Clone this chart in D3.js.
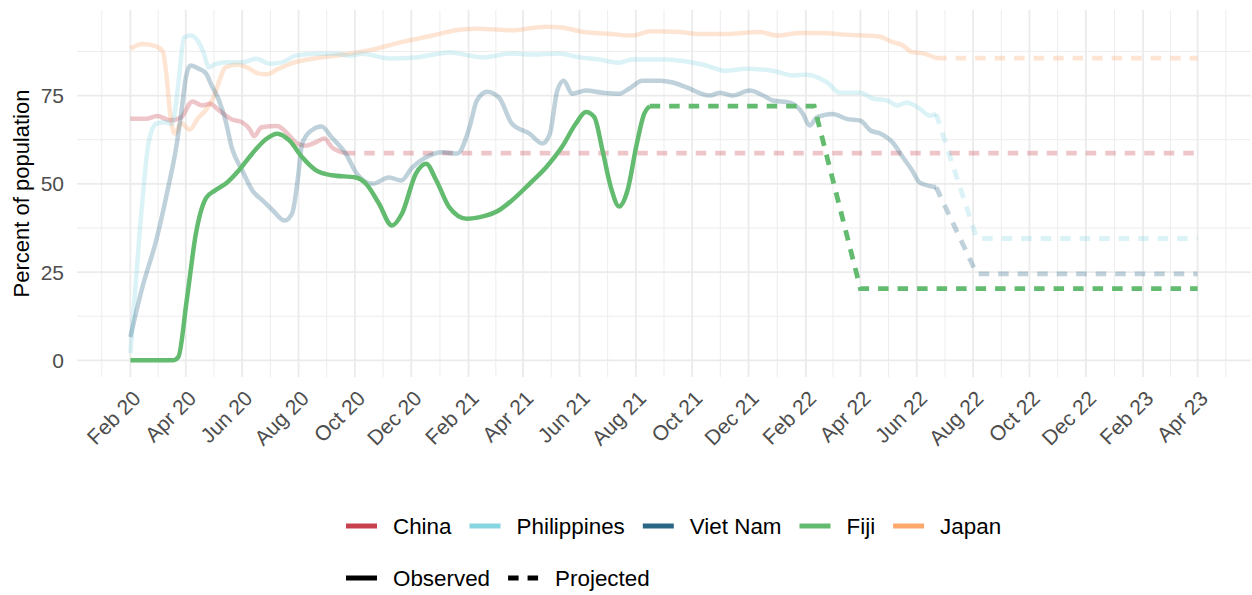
<!DOCTYPE html>
<html>
<head>
<meta charset="utf-8">
<script src="https://cdn.jsdelivr.net/npm/d3@7"></script>
<style>
  body { margin: 0; background: #fff; }
  text { font-family: "Liberation Sans", Arial, sans-serif; }
</style>
</head>
<body>
<div id="vis"></div>
<script>
// Data
const countries = ["China", "Philippines", "Viet Nam", "Fiji", "Japan"];
const countryColors = ["#C8414F", "#87D5E0", "#2A6785", "#63BB6F", "#FDA96E"];
const yTicks = [0, 25, 50, 75];

const chinaObserved = [
  ["2020-02-01", 68.4], ["2020-02-18", 68.4], ["2020-03-01", 69.2], ["2020-03-15", 68.0],
  ["2020-03-27", 68.8], ["2020-04-08", 73.3], ["2020-04-19", 72.2], ["2020-04-27", 72.7],
  ["2020-05-07", 70.8], ["2020-05-21", 68.2], ["2020-06-01", 67.4], ["2020-06-09", 65.5],
  ["2020-06-14", 63.5], ["2020-06-22", 66.0], ["2020-07-09", 66.4], ["2020-07-19", 64.5],
  ["2020-07-30", 61.5], ["2020-08-09", 60.8], ["2020-08-20", 61.8], ["2020-08-29", 62.8],
  ["2020-09-06", 60.4], ["2020-09-20", 58.7]
];
const chinaProjected = [["2020-09-20", 58.7], ["2023-04-01", 58.7]];

const philippinesObserved = [
  ["2020-02-01", 2.0], ["2020-02-11", 36.0], ["2020-02-21", 62.0], ["2020-02-29", 67.0],
  ["2020-03-11", 67.4], ["2020-03-17", 67.0], ["2020-03-24", 78.4], ["2020-03-30", 91.4],
  ["2020-04-06", 92.0], ["2020-04-15", 90.1], ["2020-04-20", 87.3], ["2020-04-26", 83.0],
  ["2020-05-04", 84.0], ["2020-05-18", 84.4], ["2020-06-01", 84.4], ["2020-06-16", 85.4],
  ["2020-07-01", 84.0], ["2020-07-14", 84.4], ["2020-07-29", 86.3], ["2020-08-20", 86.8],
  ["2020-09-11", 86.8], ["2020-09-25", 86.3], ["2020-10-09", 86.8], ["2020-11-07", 85.5],
  ["2020-12-06", 85.8], ["2021-01-11", 87.2], ["2021-02-16", 85.8], ["2021-03-20", 86.9],
  ["2021-04-11", 86.6], ["2021-05-10", 86.9], ["2021-06-01", 85.8], ["2021-06-22", 85.2],
  ["2021-07-14", 84.3], ["2021-07-28", 85.2], ["2021-09-03", 85.2], ["2021-09-17", 84.9],
  ["2021-10-16", 83.5], ["2021-11-06", 82.0], ["2021-11-28", 82.6], ["2021-12-27", 82.0],
  ["2022-01-18", 80.7], ["2022-02-02", 80.9], ["2022-02-24", 78.7], ["2022-03-10", 75.8],
  ["2022-04-01", 75.8], ["2022-04-15", 74.1], ["2022-04-30", 73.6], ["2022-05-11", 72.2],
  ["2022-05-21", 73.0], ["2022-06-04", 71.3], ["2022-06-15", 69.3], ["2022-06-22", 69.8]
];
const philippinesProjected = [["2022-06-22", 69.8], ["2022-08-05", 34.5], ["2023-04-01", 34.5]];

const vietnamObserved = [
  ["2020-02-01", 6.6], ["2020-02-14", 20.7], ["2020-02-29", 34.0], ["2020-03-13", 49.0],
  ["2020-03-21", 59.4], ["2020-03-27", 69.9], ["2020-04-01", 80.0], ["2020-04-06", 83.5],
  ["2020-04-15", 82.6], ["2020-04-23", 81.2], ["2020-04-29", 77.8], ["2020-05-07", 73.6],
  ["2020-05-14", 67.9], ["2020-05-21", 60.0], ["2020-06-01", 53.8], ["2020-06-12", 48.1],
  ["2020-06-23", 45.3], ["2020-07-04", 42.5], ["2020-07-17", 39.6], ["2020-07-25", 41.6],
  ["2020-07-31", 50.9], ["2020-08-05", 61.4], ["2020-08-15", 65.1], ["2020-08-26", 66.2],
  ["2020-09-06", 63.1], ["2020-09-21", 58.6], ["2020-10-03", 52.9], ["2020-10-20", 50.0],
  ["2020-11-07", 51.8], ["2020-11-20", 50.9], ["2020-12-02", 54.6], ["2020-12-17", 57.5],
  ["2021-01-04", 58.9], ["2021-01-20", 58.6], ["2021-02-02", 66.0], ["2021-02-10", 73.6],
  ["2021-02-21", 76.1], ["2021-03-06", 74.4], ["2021-03-20", 67.0], ["2021-04-08", 64.2],
  ["2021-04-22", 61.4], ["2021-04-30", 64.2], ["2021-05-08", 76.4], ["2021-05-15", 79.2],
  ["2021-05-24", 75.5], ["2021-06-08", 76.4], ["2021-06-26", 75.8], ["2021-07-14", 75.5],
  ["2021-07-25", 77.0], ["2021-08-08", 79.2], ["2021-08-27", 79.2], ["2021-09-10", 78.7],
  ["2021-09-25", 77.3], ["2021-10-20", 75.0], ["2021-10-31", 75.8], ["2021-11-14", 75.0],
  ["2021-12-02", 76.4], ["2021-12-17", 75.0], ["2021-12-27", 73.6], ["2022-01-15", 73.0],
  ["2022-01-29", 69.8], ["2022-02-05", 66.5], ["2022-02-13", 68.8], ["2022-03-02", 69.8],
  ["2022-03-17", 68.4], ["2022-04-01", 67.9], ["2022-04-12", 65.1], ["2022-04-23", 64.2],
  ["2022-05-06", 61.7], ["2022-05-17", 57.5], ["2022-05-27", 53.8], ["2022-06-04", 50.4],
  ["2022-06-22", 49.0]
];
const vietnamProjected = [["2022-06-22", 49.0], ["2022-08-05", 24.5], ["2023-04-01", 24.5]];

const fijiObserved = [
  ["2020-02-01", 0.0], ["2020-03-18", 0.0], ["2020-03-24", 1.0], ["2020-04-02", 17.0],
  ["2020-04-12", 36.0], ["2020-04-23", 46.0], ["2020-05-02", 48.0], ["2020-05-14", 50.0],
  ["2020-05-29", 54.0], ["2020-06-12", 58.6], ["2020-06-27", 62.7], ["2020-07-09", 64.2],
  ["2020-07-22", 62.3], ["2020-08-05", 57.5], ["2020-08-20", 53.8], ["2020-09-06", 52.4],
  ["2020-10-02", 51.8], ["2020-10-13", 50.0], ["2020-10-27", 44.4], ["2020-11-10", 38.2],
  ["2020-11-21", 41.6], ["2020-12-06", 52.9], ["2020-12-17", 55.7], ["2020-12-28", 51.0],
  ["2021-01-11", 43.4], ["2021-01-30", 40.1], ["2021-02-12", 40.5], ["2021-03-06", 42.5],
  ["2021-03-20", 45.3], ["2021-04-08", 50.0], ["2021-04-26", 54.7], ["2021-05-13", 60.4],
  ["2021-05-28", 67.0], ["2021-06-08", 70.3], ["2021-06-17", 68.9], ["2021-06-26", 59.4],
  ["2021-07-05", 49.0], ["2021-07-14", 43.6], ["2021-07-23", 48.1], ["2021-08-02", 61.3],
  ["2021-08-10", 69.8], ["2021-08-16", 72.0]
];
const fijiProjected = [["2021-08-16", 72.0], ["2022-02-10", 72.0], ["2022-04-01", 20.3], ["2023-04-01", 20.3]];

const japanObserved = [
  ["2020-02-01", 88.3], ["2020-02-14", 89.6], ["2020-02-29", 88.9], ["2020-03-07", 87.5],
  ["2020-03-11", 81.0], ["2020-03-15", 70.0], ["2020-03-20", 64.2], ["2020-03-27", 67.2],
  ["2020-04-05", 65.3], ["2020-04-14", 68.5], ["2020-04-23", 71.0], ["2020-05-01", 74.5],
  ["2020-05-07", 79.0], ["2020-05-14", 83.0], ["2020-05-27", 83.8], ["2020-06-06", 83.0],
  ["2020-06-19", 81.2], ["2020-06-28", 81.0], ["2020-07-09", 82.4], ["2020-07-25", 84.2],
  ["2020-08-18", 85.5], ["2020-09-19", 86.6], ["2020-10-20", 88.0], ["2020-11-18", 90.0],
  ["2020-12-24", 92.0], ["2021-01-22", 93.6], ["2021-02-12", 93.9], ["2021-03-20", 93.5],
  ["2021-04-26", 94.5], ["2021-05-13", 94.3], ["2021-06-01", 93.2], ["2021-07-06", 92.4],
  ["2021-07-28", 92.0], ["2021-08-18", 93.2], ["2021-09-17", 93.0], ["2021-10-09", 92.4],
  ["2021-11-06", 92.4], ["2021-12-13", 93.0], ["2022-01-01", 92.0], ["2022-01-26", 92.7],
  ["2022-02-16", 92.7], ["2022-03-17", 92.2], ["2022-04-21", 91.7], ["2022-05-06", 90.1],
  ["2022-05-17", 89.2], ["2022-05-27", 87.3], ["2022-06-07", 87.0], ["2022-06-22", 85.6]
];
const japanProjected = [["2022-06-22", 85.6], ["2023-04-01", 85.6]];

// Layout
const WIDTH = 1252, HEIGHT = 595;
const PANEL = { left: 77, right: 1251, top: 10, bottom: 377 };
const FADED = 0.3;
const DASH = "10.5,9";

const parseDate = d3.timeParse("%Y-%m-%d");
const toPoints = (arr) => arr.map(d => ({ date: parseDate(d[0]), value: d[1] }));

const series = [
  { name: "Japan", obs: japanObserved, proj: japanProjected, opacity: FADED },
  { name: "China", obs: chinaObserved, proj: chinaProjected, opacity: FADED },
  { name: "Philippines", obs: philippinesObserved, proj: philippinesProjected, opacity: FADED },
  { name: "Viet Nam", obs: vietnamObserved, proj: vietnamProjected, opacity: FADED },
  { name: "Fiji", obs: fijiObserved, proj: fijiProjected, opacity: 1 }
];

const color = d3.scaleOrdinal().domain(countries).range(countryColors);

const SVG = d3.select("#vis").append("svg")
  .attr("width", WIDTH)
  .attr("height", HEIGHT);

// scales with ggplot-like 5% expansion
const xStart = parseDate("2020-02-01"), xEnd = parseDate("2023-04-01");
const xPad = (xEnd - xStart) * 0.05;
const X_SCALE = d3.scaleTime()
  .domain([new Date(+xStart - xPad), new Date(+xEnd + xPad)])
  .range([PANEL.left, PANEL.right]);

const yMax = d3.max(series, s => d3.max(s.obs, d => d[1]));
const yPad = yMax * 0.05;
const Y_SCALE = d3.scaleLinear()
  .domain([-yPad, yMax + yPad])
  .range([PANEL.bottom, PANEL.top]);

// gridlines: major every 2 months from Feb 2020, minor halfway between
const majorX = d3.timeMonth.range(xStart, d3.timeDay.offset(xEnd, 1), 2);
const minorX = [];
for (let i = -1; i < majorX.length; i++) {
  const a = i < 0 ? d3.timeMonth.offset(majorX[0], -2) : majorX[i];
  const b = i + 1 < majorX.length ? majorX[i + 1] : d3.timeMonth.offset(majorX[i], 2);
  minorX.push(new Date((+a + +b) / 2));
}
const minorY = yTicks.map(t => t + 12.5);

const grid = SVG.append("g");
grid.selectAll(".minor-y").data(minorY).enter().append("line")
  .attr("x1", PANEL.left).attr("x2", PANEL.right)
  .attr("y1", d => Y_SCALE(d)).attr("y2", d => Y_SCALE(d))
  .attr("stroke", "#EBEBEB").attr("stroke-width", 0.9);
grid.selectAll(".minor-x").data(minorX.filter(d => X_SCALE(d) > PANEL.left && X_SCALE(d) < PANEL.right)).enter().append("line")
  .attr("x1", d => X_SCALE(d)).attr("x2", d => X_SCALE(d))
  .attr("y1", PANEL.top).attr("y2", PANEL.bottom)
  .attr("stroke", "#EBEBEB").attr("stroke-width", 0.9);
grid.selectAll(".major-y").data(yTicks).enter().append("line")
  .attr("x1", PANEL.left).attr("x2", PANEL.right)
  .attr("y1", d => Y_SCALE(d)).attr("y2", d => Y_SCALE(d))
  .attr("stroke", "#EBEBEB").attr("stroke-width", 1.8);
grid.selectAll(".major-x").data(majorX).enter().append("line")
  .attr("x1", d => X_SCALE(d)).attr("x2", d => X_SCALE(d))
  .attr("y1", PANEL.top).attr("y2", PANEL.bottom)
  .attr("stroke", "#EBEBEB").attr("stroke-width", 1.8);

// axes (labels only, ggplot minimal style)
const fmt = d3.timeFormat("%b %y");
SVG.append("g").selectAll("text").data(majorX).enter().append("text")
  .attr("transform", d => "translate(" + (X_SCALE(d) + 1) + "," + 389 + ") rotate(-45)")
  .attr("text-anchor", "end")
  .attr("dy", "0.72em")
  .attr("font-size", "21px")
  .attr("fill", "#4D4D4D")
  .text(d => fmt(d));

SVG.append("g").selectAll("text").data(yTicks).enter().append("text")
  .attr("x", 64)
  .attr("y", d => Y_SCALE(d))
  .attr("dy", "0.36em")
  .attr("text-anchor", "end")
  .attr("font-size", "21px")
  .attr("fill", "#4D4D4D")
  .text(d => d);

SVG.append("text")
  .attr("transform", "translate(29," + ((PANEL.top + PANEL.bottom) / 2) + ") rotate(-90)")
  .attr("text-anchor", "middle")
  .attr("font-size", "22px")
  .attr("fill", "#000")
  .text("Percent of population");

// lines
const observedLine = d3.line()
  .x(d => X_SCALE(d.date))
  .y(d => Y_SCALE(d.value))
  .curve(d3.curveMonotoneX);
const projectedLine = d3.line()
  .x(d => X_SCALE(d.date))
  .y(d => Y_SCALE(d.value));

const lines = SVG.append("g").attr("fill", "none");
series.forEach(s => {
  lines.append("path")
    .datum(toPoints(s.proj))
    .attr("d", projectedLine)
    .attr("stroke", color(s.name))
    .attr("stroke-opacity", s.opacity)
    .attr("stroke-width", 4.8)
    .attr("stroke-dasharray", DASH);
  lines.append("path")
    .datum(toPoints(s.obs))
    .attr("d", observedLine)
    .attr("stroke", color(s.name))
    .attr("stroke-opacity", s.opacity)
    .attr("stroke-width", 4.5)
    .attr("stroke-linejoin", "round");
});

// legends
function legendRow(items, y) {
  const row = SVG.append("g");
  let x = 346;
  items.forEach(it => {
    row.append("line")
      .attr("x1", x).attr("x2", x + 31)
      .attr("y1", y).attr("y2", y)
      .attr("stroke", it.color)
      .attr("stroke-width", 5)
      .attr("stroke-dasharray", it.dash || null);
    const t = row.append("text")
      .attr("x", x + 47)
      .attr("y", y)
      .attr("dy", "0.36em")
      .attr("font-size", "22.4px")
      .attr("fill", "#000")
      .text(it.label);
    x = x + 47 + t.node().getComputedTextLength() + 18;
  });
}
legendRow(countries.map(c => ({ label: c, color: color(c) })), 526);
legendRow([
  { label: "Observed", color: "#000" },
  { label: "Projected", color: "#000", dash: DASH }
], 578);
</script>
</body>
</html>
